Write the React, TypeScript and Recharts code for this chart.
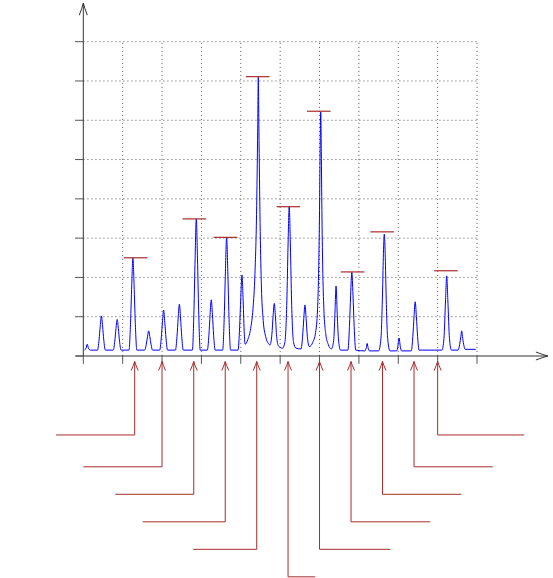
import React from 'react'
import { LineChart, Line, XAxis, YAxis, ReferenceLine, ReferenceDot } from 'recharts'

// spectrum trace as [position, intensity]
const spectrum: [number, number][] = [
    [0.03, 0.15], [0.07, 0.2], [0.1, 0.3], [0.13, 0.2], [0.18, 0.15],
    [0.36, 0.15], [0.4, 0.41], [0.43, 0.76], [0.46, 1.02], [0.49, 0.76], [0.52, 0.41], [0.56, 0.15],
    [0.76, 0.15], [0.8, 0.38], [0.83, 0.7], [0.86, 0.93], [0.89, 0.7], [0.92, 0.38], [0.96, 0.15],
    [1.16, 0.15], [1.2, 0.86], [1.23, 1.8], [1.26, 2.5], [1.29, 1.8], [1.32, 0.86], [1.36, 0.15],
    [1.56, 0.15], [1.6, 0.3], [1.63, 0.49], [1.66, 0.64], [1.69, 0.49], [1.72, 0.3], [1.76, 0.15],
    [1.94, 0.15], [1.98, 0.46], [2.01, 0.86], [2.04, 1.17], [2.07, 0.86], [2.1, 0.46], [2.14, 0.15],
    [2.34, 0.15], [2.38, 0.5], [2.41, 0.97], [2.44, 1.32], [2.47, 0.97], [2.5, 0.5], [2.54, 0.15],
    [2.77, 0.15], [2.81, 1.15], [2.84, 2.49], [2.87, 3.49], [2.9, 2.49], [2.93, 1.15], [2.97, 0.15],
    [3.15, 0.15], [3.19, 0.53], [3.22, 1.05], [3.25, 1.43], [3.28, 1.05], [3.31, 0.53], [3.35, 0.15],
    [3.54, 0.15], [3.58, 1.01], [3.61, 2.16], [3.64, 3.02], [3.67, 2.16], [3.7, 1.01], [3.74, 0.15],
    [3.93, 0.15], [3.97, 0.72], [4.0, 1.49], [4.03, 2.06], [4.06, 1.4], [4.09, 0.55], [4.11, 0.3],
    [4.18, 0.42], [4.25, 0.7], [4.31, 1.2], [4.36, 2.1], [4.4, 3.6], [4.43, 5.8], [4.445, 7.1],
    [4.46, 5.8], [4.49, 3.4], [4.52, 1.9], [4.57, 0.9], [4.63, 0.5], [4.7, 0.32], [4.74, 0.28],
    [4.79, 0.55], [4.82, 1.0], [4.85, 1.34], [4.88, 1.0], [4.91, 0.5], [4.96, 0.25],
    [5.06, 0.2], [5.12, 0.35], [5.17, 1.4], [5.2, 2.8], [5.23, 3.8], [5.26, 2.8], [5.29, 1.4], [5.34, 0.35], [5.4, 0.2],
    [5.53, 0.18], [5.57, 0.5], [5.6, 0.95], [5.63, 1.3], [5.66, 0.95], [5.69, 0.5], [5.74, 0.24],
    [5.83, 0.35], [5.9, 0.6], [5.95, 1.2], [5.98, 2.3], [6.0, 3.7], [6.015, 5.2], [6.03, 6.21],
    [6.045, 5.2], [6.06, 3.7], [6.08, 2.3], [6.11, 1.2], [6.16, 0.55], [6.22, 0.3], [6.3, 0.18],
    [6.36, 0.4], [6.39, 1.05], [6.42, 1.78], [6.45, 1.05], [6.48, 0.45], [6.53, 0.15],
    [6.72, 0.15], [6.76, 0.75], [6.79, 1.55], [6.82, 2.13], [6.85, 1.55], [6.88, 0.75], [6.92, 0.15],
    [7.15, 0.13], [7.19, 0.22], [7.21, 0.32], [7.23, 0.22], [7.27, 0.13],
    [7.5, 0.13], [7.56, 0.45], [7.6, 1.6], [7.62, 2.5], [7.645, 3.1], [7.67, 2.5], [7.69, 1.6], [7.73, 0.45], [7.79, 0.13],
    [7.96, 0.13], [7.99, 0.25], [8.02, 0.46], [8.05, 0.25], [8.08, 0.13],
    [8.33, 0.13], [8.37, 0.5], [8.4, 1.0], [8.43, 1.38], [8.46, 1.0], [8.49, 0.5], [8.53, 0.15],
    [9.11, 0.15], [9.16, 0.45], [9.2, 1.4], [9.23, 2.04], [9.26, 1.4], [9.3, 0.45], [9.35, 0.15],
    [9.52, 0.15], [9.56, 0.3], [9.59, 0.5], [9.61, 0.64], [9.63, 0.5], [9.66, 0.3], [9.7, 0.17],
    [9.97, 0.17],
]

// red level marks over the labelled peaks
const markX = [1.33, 2.82, 3.61, 4.43, 5.21, 5.98, 6.84, 7.59, 9.21]
const markY = [2.5, 3.49, 3.02, 7.11, 3.8, 6.23, 2.14, 3.16, 2.17]

// leader arrows under the axis
const arrowX = [1.305, 2.0, 2.805, 3.605, 4.405, 5.2, 6.0, 6.8, 7.6, 8.4, 9.0]
const leaderY = [-2.01, -2.82, -3.52, -4.22, -4.92, -5.62, -4.92, -4.22, -3.52, -2.82, -2.01]
const leaderEndX = [-0.69, 0, 0.81, 1.51, 2.79, 5.89, 7.8, 8.81, 9.6, 10.4, 11.2]

const xTicks = [0, 1, 2, 3, 4, 5, 6, 7, 8, 9, 10]
const yTicks = [0, 1, 2, 3, 4, 5, 6, 7, 8]

const RED = '#a82c2c'
const AXIS = '#333'
const GRID = '#6f6f6f'

const data = spectrum.map(([x, y]) => ({ x, y }))

const UpHead = (props: any) => {
    const { cx, cy } = props
    return (
        <path
            d={`M${cx - 3.5},${cy + 9} Q${cx - 0.8},${cy + 3} ${cx},${cy} Q${cx + 0.8},${cy + 3} ${cx + 3.5},${cy + 9}`}
            fill="none"
            stroke={RED}
            strokeWidth={1}
        />
    )
}

const AxisUpHead = (props: any) => {
    const { cx, cy } = props
    return (
        <path
            d={`M${cx - 4},${cy + 12} Q${cx - 1},${cy + 4} ${cx},${cy} Q${cx + 1},${cy + 4} ${cx + 4},${cy + 12}`}
            fill="none"
            stroke={AXIS}
            strokeWidth={1}
        />
    )
}

const AxisRightHead = (props: any) => {
    const { cx, cy } = props
    return (
        <path
            d={`M${cx - 12},${cy - 4} Q${cx - 4},${cy - 1} ${cx},${cy} Q${cx - 4},${cy + 1} ${cx - 12},${cy + 4}`}
            fill="none"
            stroke={AXIS}
            strokeWidth={1}
        />
    )
}

export default function App() {
    return (
        <div style={{ position: 'absolute', left: 0, top: 0, width: 553, height: 578, background: '#fff' }}>
            <LineChart width={553} height={578} data={data} margin={{ top: 0, right: 0, left: 0, bottom: 0 }}>
                <XAxis type="number" dataKey="x" domain={[-2.1158, 11.93]} allowDataOverflow hide />
                <YAxis type="number" domain={[-5.65, 9.061]} allowDataOverflow hide />

                {xTicks.slice(1).map((x) => (
                    <ReferenceLine
                        key={`gx${x}`}
                        segment={[{ x, y: 0 }, { x, y: 8 }]}
                        stroke={GRID}
                        strokeWidth={1}
                        strokeDasharray="1.2 2.8"
                    />
                ))}
                {yTicks.slice(1).map((y) => (
                    <ReferenceLine
                        key={`gy${y}`}
                        segment={[{ x: 0, y }, { x: 10, y }]}
                        stroke={GRID}
                        strokeWidth={1}
                        strokeDasharray="1.2 2.8"
                    />
                ))}

                <Line
                    type="monotone"
                    dataKey="y"
                    stroke="#0000ff"
                    strokeWidth={1}
                    dot={false}
                    activeDot={false}
                    isAnimationActive={false}
                />

                {markX.map((x, i) => (
                    <ReferenceLine
                        key={`m${i}`}
                        segment={[{ x: x - 0.3, y: markY[i] }, { x: x + 0.3, y: markY[i] }]}
                        stroke={RED}
                        strokeWidth={1.2}
                    />
                ))}

                {/* axes */}
                <ReferenceLine segment={[{ x: -0.19, y: 0 }, { x: 11.8, y: 0 }]} stroke={AXIS} strokeWidth={1} />
                <ReferenceLine segment={[{ x: 0, y: 0 }, { x: 0, y: 8.98 }]} stroke={AXIS} strokeWidth={1} />
                <ReferenceDot x={11.8} y={0} shape={AxisRightHead} />
                <ReferenceDot x={0} y={8.98} shape={AxisUpHead} />
                {xTicks.map((x) => (
                    <ReferenceLine key={`tx${x}`} segment={[{ x, y: 0 }, { x, y: -0.2 }]} stroke="#555" strokeWidth={1} />
                ))}
                {yTicks.map((y) => (
                    <ReferenceLine key={`ty${y}`} segment={[{ x: 0, y }, { x: -0.21, y }]} stroke="#555" strokeWidth={1} />
                ))}

                {/* leaders */}
                {arrowX.map((x, i) => (
                    <ReferenceLine
                        key={`lv${i}`}
                        segment={[{ x, y: -0.14 }, { x, y: leaderY[i] }]}
                        stroke={RED}
                        strokeWidth={1}
                    />
                ))}
                {arrowX.map((x, i) => (
                    <ReferenceLine
                        key={`lh${i}`}
                        segment={[{ x, y: leaderY[i] }, { x: leaderEndX[i], y: leaderY[i] }]}
                        stroke={RED}
                        strokeWidth={1}
                    />
                ))}
                {arrowX.map((x, i) => (
                    <ReferenceDot key={`ah${i}`} x={x} y={-0.14} shape={UpHead} />
                ))}
            </LineChart>
        </div>
    )
}
